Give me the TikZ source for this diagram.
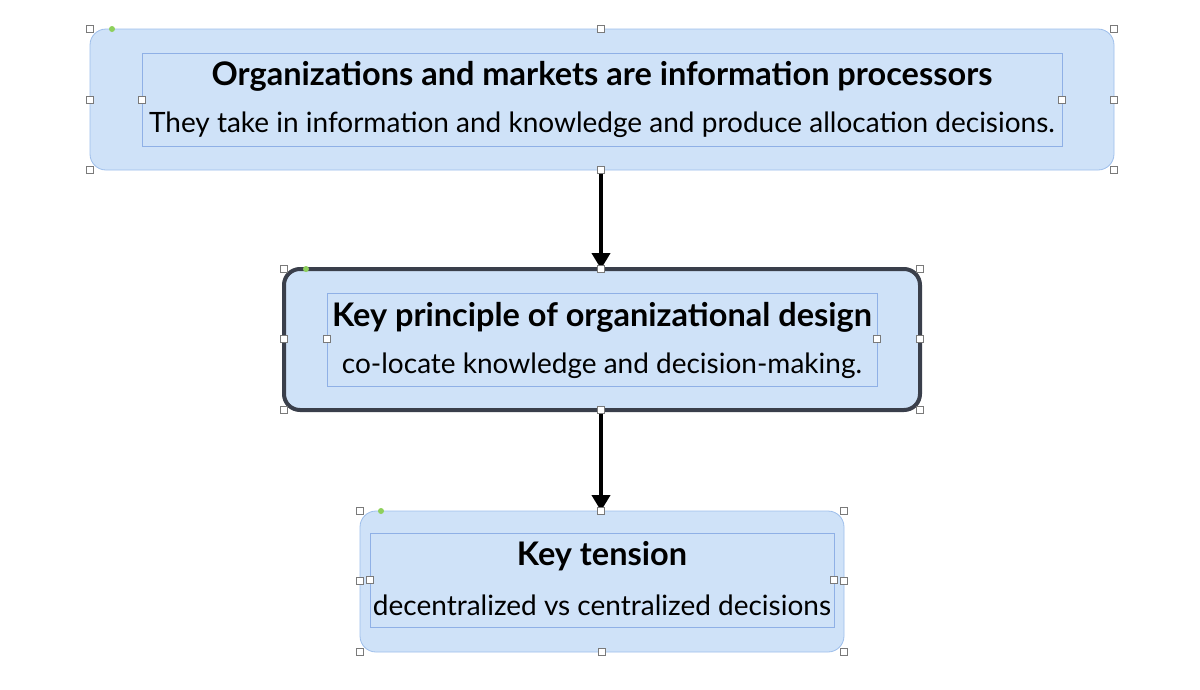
\documentclass[tikz,border=0pt]{standalone}
\usepackage{fontspec}
\setmainfont{Lato}
\usetikzlibrary{arrows.meta}
\definecolor{boxfill}{HTML}{CFE2F8}
\definecolor{boxline}{HTML}{9DBEEB}
\definecolor{darkline}{HTML}{3A3F4B}
\definecolor{inner}{HTML}{8FB0E6}
\definecolor{handle}{HTML}{7A7A7A}
\definecolor{gdot}{HTML}{8ED05C}
\tikzset{
  outer/.style={fill=boxfill,draw=boxline,line width=0.8pt,rounded corners=16pt},
  key/.style={fill=boxfill,draw=darkline,line width=4pt,rounded corners=16pt},
  innerbox/.style={draw=inner,line width=0.6pt},
  hd/.style={draw=handle,fill=white,line width=0.6pt,minimum size=7pt,inner sep=0pt,rectangle},
  gd/.style={fill=gdot,circle,minimum size=6pt,inner sep=0pt},
  ttl/.style={font=\bfseries\fontsize{32.5}{36}\selectfont},
  sub/.style={font=\fontsize{28}{32}\selectfont},
  arr/.style={line width=4pt,-{Triangle[length=16pt,width=18pt]}}
}
\begin{document}
\begin{tikzpicture}[x=1pt,y=-1pt]
\useasboundingbox (0,0) rectangle (1200,689);
% box 1
\draw[outer] (90,29) rectangle (1114,170);
\draw[innerbox] (142,53) rectangle (1062,146);
\node[ttl] (t1) at (602,76) {Organizations and markets are information processors};
\node[sub] (s1) at (602,125) {They take in information and knowledge and produce allocation decisions.};
% box 2
\draw[key] (284,269) rectangle (920,410);
\draw[innerbox] (327,293) rectangle (877,386);
\node[ttl] (t2) at (602,317) {Key principle of organizational design};
\node[sub] (s2) at (602,366) {co-locate knowledge and decision-making.};
% box 3
\draw[outer] (360,511) rectangle (844,652);
\draw[innerbox] (370,533) rectangle (834,627);
\node[ttl] (t3) at (602,556) {Key tension};
\node[sub] (s3) at (602,605) {decentralized vs centralized decisions};
% handles
\foreach \p in {(90,29),(601,29),(1114,29),(90,100),(1114,100),(90,170),(1114,170),(142,100),(1062,100),
  (284,269),(920,269),(284,339),(920,339),(284,410),(920,410),(327,339),(877,339),
  (360,511),(844,511),(360,581),(844,581),(360,652),(602,652),(844,652),(370,580),(834,580)}
  \node[hd] at \p {};
\coordinate (a1) at (601,170);
\coordinate (b1) at (601,269);
\coordinate (a2) at (601,410);
\coordinate (b2) at (601,511);
\draw[arr] (a1) -- (b1);
\draw[arr] (a2) -- (b2);
\node[hd] (h1) at (a1) {};
\node[hd] (h2) at (b1) {};
\node[hd] (h3) at (a2) {};
\node[hd] (h4) at (b2) {};
\node[gd] (g1) at (112,29) {};
\node[gd] (g2) at (306,269) {};
\node[gd] (g3) at (381,511) {};
\end{tikzpicture}
\end{document}
